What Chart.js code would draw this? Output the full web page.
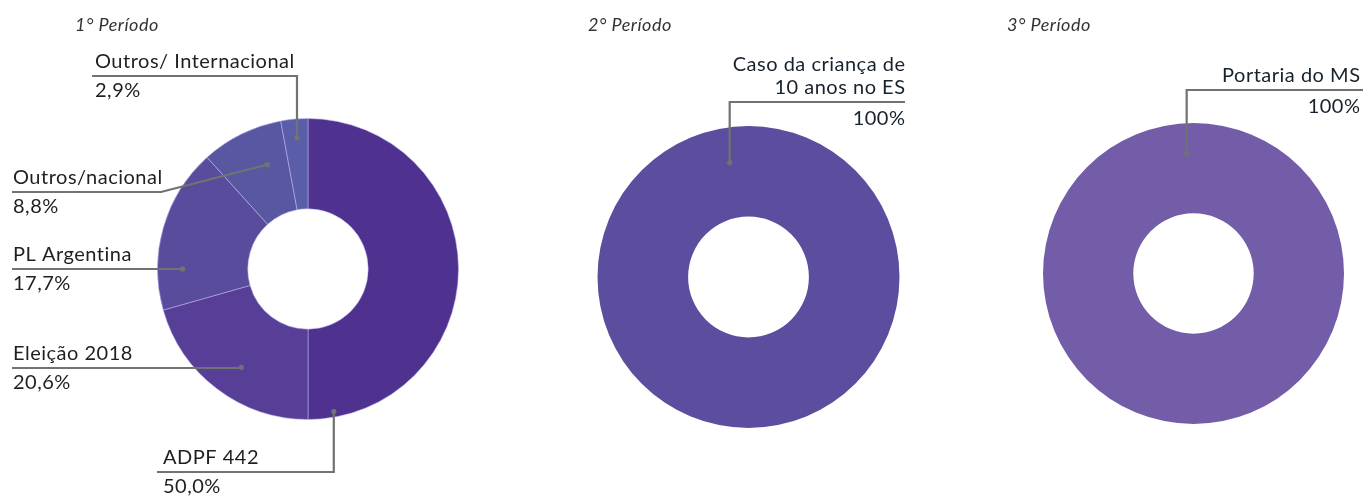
<!DOCTYPE html>
<html><head><meta charset="utf-8">
<script src="https://cdn.jsdelivr.net/npm/chart.js@4.4.1/dist/chart.umd.min.js"></script>
<style>
html,body{margin:0;padding:0;background:#fff;}
#wrap{position:relative;width:1365px;height:497px;overflow:hidden;}
#wrap canvas{position:absolute;left:0;top:0;}
</style></head><body>
<div id="wrap">
<canvas id="c1" width="1365" height="497"></canvas>
<canvas id="c2" width="1365" height="497"></canvas>
<canvas id="c3" width="1365" height="497"></canvas>
</div>
<script>
const titles = ['1° Período', '2° Período', '3° Período'];

const p1Labels = ['ADPF 442', 'Eleição 2018', 'PL Argentina', 'Outros/nacional', 'Outros/ Internacional'];
const p1Values = [50.0, 20.6, 17.7, 8.8, 2.9];
const p1Colors = ['#4f3190', '#573f97', '#5a4c9c', '#5857a1', '#5a5ea8'];

const p2Labels = [['Caso da criança de', '10 anos no ES']];
const p2Values = [100];
const p2Colors = ['#5d4d9f'];

const p3Labels = ['Portaria do MS'];
const p3Values = [100];
const p3Colors = ['#735da8'];

const LINE = '#6f7372';
const TEXT1 = '#1f1f1f';
const TEXT2 = '#17222d';

function fmt(v, dec) { return v.toFixed(dec).replace('.', ',') + '%'; }

function drawText(ctx, txt, x, y, align, spacing) {
  ctx.letterSpacing = spacing + 'px';
  let w = ctx.measureText(txt).width;
  ctx.textAlign = 'left';
  let sx = x;
  if (align === 'right') sx = x - w + spacing;
  ctx.fillText(txt, sx, y);
  ctx.letterSpacing = '0px';
}

const leaderPlugin = {
  id: 'leaders',
  afterDatasetsDraw(chart, args, opts) {
    const ctx = chart.ctx;
    const meta = chart.getDatasetMeta(0);
    const values = chart.data.datasets[0].data;
    ctx.save();
    ctx.textBaseline = 'alphabetic';
    // title
    ctx.font = 'italic 18px Lato';
    ctx.fillStyle = '#333';
    drawText(ctx, opts.title, opts.titleX, 31, 'left', 0.5);

    opts.items.forEach((it, i) => {
      const arc = meta.data[i];
      const p = arc.getProps(['x', 'y', 'startAngle', 'endAngle', 'innerRadius', 'outerRadius'], true);
      const a = p.startAngle + it.f * (p.endAngle - p.startAngle);
      const r = p.innerRadius + it.rf * (p.outerRadius - p.innerRadius);
      const dx = p.x + r * Math.cos(a);
      const dy = p.y + r * Math.sin(a);
      const bendX = it.bendX !== undefined ? it.bendX : dx;
      ctx.strokeStyle = LINE;
      ctx.lineWidth = 2.2;
      ctx.lineJoin = 'miter';
      ctx.beginPath();
      ctx.moveTo(it.lineX0, it.y);
      ctx.lineTo(bendX, it.y);
      ctx.lineTo(dx, dy);
      ctx.stroke();
      ctx.fillStyle = LINE;
      ctx.beginPath();
      ctx.arc(dx, dy, 2.6, 0, Math.PI * 2);
      ctx.fill();
      const lbl = chart.data.labels[i];
      const lines = Array.isArray(lbl) ? lbl : [lbl];
      ctx.font = '20px Lato';
      ctx.fillStyle = opts.textColor;
      const lh = 23;
      for (let k = 0; k < lines.length; k++) {
        const by = it.y - 8.5 - (lines.length - 1 - k) * lh;
        drawText(ctx, lines[k], it.textX, by, it.align || 'left', 0.5);
      }
      drawText(ctx, fmt(values[i], opts.dec), it.textX, it.y + opts.valOff, it.align || 'left', 0.5);
    });
    ctx.restore();
  }
};

function makeChart(id, labels, values, colors, pad, border, plug) {
  return new Chart(document.getElementById(id), {
    type: 'doughnut',
    data: {
      labels: labels,
      datasets: [{
        data: values,
        backgroundColor: colors,
        borderColor: 'rgba(190,180,235,0.55)',
        borderWidth: border,
        hoverOffset: 0
      }]
    },
    options: {
      responsive: false,
      animation: false,
      cutout: '40%',
      layout: { padding: pad },
      events: [],
      plugins: {
        legend: { display: false },
        tooltip: { enabled: false },
        leaders: plug
      }
    },
    plugins: [leaderPlugin]
  });
}

makeChart('c1', p1Labels, p1Values, p1Colors,
  { left: 157, right: 906, top: 118, bottom: 77 }, 1,
  { title: titles[0], titleX: 75, textColor: TEXT1, dec: 1, valOff: 21,
    items: [
      { textX: 163, lineX0: 157, y: 472, f: 0.943, rf: 0.937 },
      { textX: 13, lineX0: 12, y: 368, f: 0.46, rf: 0.65 },
      { textX: 13, lineX0: 12, y: 269, f: 0.249, rf: 0.722 },
      { textX: 13, lineX0: 12, y: 192, bendX: 161, f: 0.657, rf: 0.574 },
      { textX: 95, lineX0: 92, y: 76, f: 0.54, rf: 0.79 }
    ] });

makeChart('c2', p2Labels, p2Values, p2Colors,
  { left: 597, right: 1365 - 900, top: 126, bottom: 497 - 428 }, 0,
  { title: titles[1], titleX: 588, textColor: TEXT2, dec: 0, valOff: 23,
    items: [ { align: 'right', textX: 905, lineX0: 905, y: 102, f: 0.974, rf: 0.61 } ] });

makeChart('c3', p3Labels, p3Values, p3Colors,
  { left: 1043, right: 1365 - 1344, top: 123, bottom: 497 - 424 }, 0,
  { title: titles[2], titleX: 1007, textColor: TEXT2, dec: 0, valOff: 23,
    items: [ { align: 'right', textX: 1360, lineX0: 1363, y: 90, f: 0.991, rf: 0.67 } ] });
</script>
</body></html>
